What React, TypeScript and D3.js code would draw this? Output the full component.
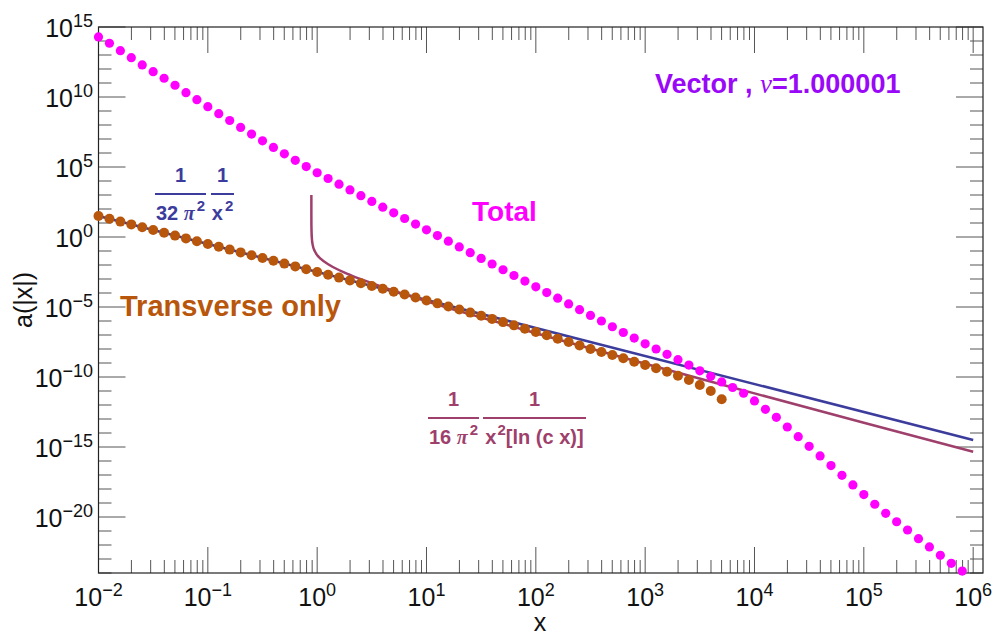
import React, { useEffect, useRef } from 'react';
import * as d3 from 'd3';

const W = 992;
const H = 635;

// dots are spaced 0.1 decade in x, starting at x = 10^-2
const dotStep = 0.1;
const dotStart = -2;

// log10 a(|x|) of the "Total" dots
const totalLogA = [
  14.29, 13.84, 13.31, 12.81, 12.29, 11.81, 11.34, 10.84, 10.31, 9.81,
  9.31, 8.81, 8.32, 7.83, 7.35, 6.87, 6.4, 5.94, 5.48, 5.03,
  4.59, 4.18, 3.77, 3.36, 2.95, 2.54, 2.13, 1.73, 1.32, 0.92,
  0.51, 0.1, -0.3, -0.71, -1.12, -1.53, -1.93, -2.34, -2.75, -3.15,
  -3.56, -3.97, -4.37, -4.78, -5.19, -5.6, -6.0, -6.41, -6.82, -7.22,
  -7.63, -8.0, -8.38, -8.76, -9.15, -9.56, -9.95, -10.35, -10.75, -11.16,
  -11.71, -12.31, -12.88, -13.57, -14.26, -14.95, -15.64, -16.33, -17.02, -17.71,
  -18.4, -19.09, -19.74, -20.34, -20.93, -21.55, -22.14, -22.74, -23.31, -23.86,
];

// log10 a(|x|) of the "Transverse only" dots
const transverseLogA = [
  1.5, 1.3, 1.1, 0.9, 0.7, 0.5, 0.3, 0.1, -0.1, -0.3,
  -0.5, -0.7, -0.9, -1.1, -1.3, -1.5, -1.7, -1.9, -2.1, -2.3,
  -2.5, -2.7, -2.9, -3.1, -3.3, -3.5, -3.7, -3.91, -4.11, -4.32,
  -4.53, -4.74, -4.96, -5.18, -5.4, -5.63, -5.85, -6.08, -6.31, -6.55,
  -6.78, -7.02, -7.26, -7.5, -7.75, -8.0, -8.22, -8.43, -8.66, -8.91,
  -9.14, -9.38, -9.62, -9.91, -10.21, -10.57, -11.0, -11.59,
];

// 1/(32 pi^2 x^2) line, end points
const asym32 = [
  { x: 1e-2, a: 31.7 },
  { x: 1e6, a: 3.17e-15 },
];

// 1/(16 pi^2 x^2 ln(cx)) curve, points read along it
const asym16x = [0.885, 0.8852, 0.886, 0.894, 0.912, 0.95, 0.978, 1.08, 1.32, 1.78, 2.4, 4, 10, 30, 100, 1000, 1e4, 1e5, 1e6];
const asym16LogA = [3.0, 1.5, 0.83, -0.09, -0.6, -1.0, -1.18, -1.57, -2.04, -2.55, -2.96, -3.58, -4.59, -5.7, -6.87, -9.05, -11.17, -13.27, -15.34];

const xMajor = [-2, -1, 0, 1, 2, 3, 4, 5, 6];
const yMajor = [15, 10, 5, 0, -5, -10, -15, -20];

const C_TOTAL = '#ff00ff';
const C_TRANS = '#b8560b';
const C_BLUE = '#3c3c9c';
const C_MAROON = '#9e3f6c';
const C_TITLE = '#9a08f8';

const SANS = '"Liberation Sans", Arial, sans-serif';
const SERIF = '"Liberation Serif", "Times New Roman", serif';

export default function App() {
  const root = useRef<SVGSVGElement>(null);

  useEffect(() => {
    const svg = d3.select(root.current);
    svg.selectAll('*').remove();

    const left = 98.5, right = 983, top = 27, bottom = 573;

    const x = d3.scaleLog().domain([1e-2, Math.pow(10, 6.09)]).range([left, right]);
    const y = d3.scaleLog().domain([1e-24, 1e15]).range([bottom, top]);

    const g = svg.append('g');

    // ticks
    const ticks = g.append('g').attr('stroke', '#555').attr('stroke-width', 1);
    for (let e = -2; e <= 6; e++) {
      for (let m = 1; m <= 9; m++) {
        const v = m * Math.pow(10, e);
        if (v > x.domain()[1]) continue;
        const px = x(v);
        const len = m === 1 ? 26 : 13;
        ticks.append('line').attr('x1', px).attr('x2', px).attr('y1', bottom).attr('y2', bottom - len);
        ticks.append('line').attr('x1', px).attr('x2', px).attr('y1', top).attr('y2', top + len);
      }
    }
    for (let e = -24; e <= 15; e++) {
      const py = y(Math.pow(10, e));
      const len = e % 5 === 0 ? 27 : 13;
      ticks.append('line').attr('x1', left).attr('x2', left + len).attr('y1', py).attr('y2', py);
      ticks.append('line').attr('x1', right).attr('x2', right - len).attr('y1', py).attr('y2', py);
    }

    // frame
    g.append('rect')
      .attr('x', left).attr('y', top)
      .attr('width', right - left).attr('height', bottom - top)
      .attr('fill', 'none').attr('stroke', '#222').attr('stroke-width', 1.2);

    const minus = (n: number) => (n < 0 ? '\u2212' + Math.abs(n) : String(n));

    // x tick labels
    xMajor.forEach((e) => {
      const t = g.append('text')
        .attr('x', x(Math.pow(10, e))).attr('y', 606)
        .attr('text-anchor', 'middle')
        .attr('font-family', SANS).attr('font-size', 25).attr('fill', '#111');
      t.append('tspan').text('10');
      t.append('tspan').attr('dy', -10).attr('font-size', 18).text(minus(e));
    });

    // y tick labels
    yMajor.forEach((e) => {
      const t = g.append('text')
        .attr('x', 93).attr('y', y(Math.pow(10, e)) + 10)
        .attr('text-anchor', 'end')
        .attr('font-family', SANS).attr('font-size', 25).attr('fill', '#111');
      t.append('tspan').text('10');
      t.append('tspan').attr('dy', -10).attr('font-size', 18).text(minus(e));
    });

    // axis titles
    g.append('text')
      .attr('x', 540).attr('y', 631)
      .attr('text-anchor', 'middle')
      .attr('font-family', SANS).attr('font-size', 25).attr('fill', '#111')
      .text('x');
    g.append('text')
      .attr('transform', `translate(32, ${(top + bottom) / 2}) rotate(-90)`)
      .attr('text-anchor', 'middle')
      .attr('font-family', SANS).attr('font-size', 25).attr('fill', '#111')
      .text('a(|x|)');

    const plot = g.append('g');

    // asymptotic lines
    const line = d3.line<{ x: number; a: number }>()
      .x((d) => x(d.x))
      .y((d) => y(d.a));

    plot.append('path')
      .attr('d', line(asym32))
      .attr('fill', 'none').attr('stroke', C_BLUE).attr('stroke-width', 2.5);

    const asym16 = asym16x.map((v, i) => ({ x: v, a: Math.pow(10, asym16LogA[i]) }));
    plot.append('path')
      .attr('d', line.curve(d3.curveMonotoneX)(asym16))
      .attr('fill', 'none').attr('stroke', C_MAROON).attr('stroke-width', 2.5);

    // dots
    const toPts = (arr: number[]) =>
      arr.map((v, i) => ({ x: Math.pow(10, dotStart + i * dotStep), a: Math.pow(10, v) }));

    plot.append('g').selectAll('circle')
      .data(toPts(transverseLogA))
      .enter().append('circle')
      .attr('cx', (d) => x(d.x)).attr('cy', (d) => y(d.a))
      .attr('r', 5).attr('fill', C_TRANS);

    plot.append('g').selectAll('circle')
      .data(toPts(totalLogA))
      .enter().append('circle')
      .attr('cx', (d) => x(d.x)).attr('cy', (d) => y(d.a))
      .attr('r', 4.6).attr('fill', C_TOTAL);

    // labels
    const label = (px: number, py: number, txt: string, color: string, size: number) =>
      g.append('text')
        .attr('x', px).attr('y', py)
        .attr('font-family', SANS).attr('font-weight', 'bold')
        .attr('font-size', size).attr('fill', color)
        .text(txt);

    label(472, 221, 'Total', C_TOTAL, 28);
    label(120, 316, 'Transverse only', C_TRANS, 29);

    const title = g.append('text')
      .attr('x', 655).attr('y', 93)
      .attr('font-family', SANS).attr('font-weight', 'bold')
      .attr('font-size', 27).attr('fill', C_TITLE);
    title.append('tspan').text('Vector , ');
    title.append('tspan').attr('font-family', SERIF).attr('font-style', 'italic').attr('font-weight', 'normal').text('\u03bd');
    title.append('tspan').text('=1.000001');

    // fraction labels
    const frac = (cx: number, barY: number, w: number, color: string, build: (t: any) => void) => {
      g.append('line')
        .attr('x1', cx - w / 2).attr('x2', cx + w / 2)
        .attr('y1', barY).attr('y2', barY)
        .attr('stroke', color).attr('stroke-width', 2);
      g.append('text')
        .attr('x', cx).attr('y', barY - 12)
        .attr('text-anchor', 'middle')
        .attr('font-family', SANS).attr('font-weight', 'bold').attr('font-size', 20)
        .attr('fill', color).text('1');
      const d = g.append('text')
        .attr('x', cx).attr('y', barY + 26)
        .attr('text-anchor', 'middle')
        .attr('font-family', SANS).attr('font-weight', 'bold').attr('font-size', 20)
        .attr('fill', color);
      build(d);
    };

    const piSq = (t: any, num: string) => {
      t.append('tspan').text(num + ' ');
      t.append('tspan').attr('font-family', SERIF).attr('font-style', 'italic').text('\u03c0');
      t.append('tspan').attr('dx', 2).attr('dy', -9).attr('font-size', 15).text('2');
    };

    frac(180.5, 194, 51, C_BLUE, (t) => piSq(t, '32'));
    frac(222.5, 194, 23, C_BLUE, (t) => {
      t.append('tspan').text('x');
      t.append('tspan').attr('dx', 2).attr('dy', -9).attr('font-size', 15).text('2');
    });

    frac(453.5, 418, 51, C_MAROON, (t) => piSq(t, '16'));
    frac(534.5, 418, 103, C_MAROON, (t) => {
      t.append('tspan').text('x');
      t.append('tspan').attr('dx', 1).attr('dy', -9).attr('font-size', 15).text('2');
      t.append('tspan').attr('dy', 9).text('[');
      t.append('tspan').text('ln (c x)');
      t.append('tspan').text(']');
    });
  }, []);

  return (
    <svg
      ref={root}
      width={W}
      height={H}
      style={{ position: 'absolute', left: 0, top: 0, background: '#fff' }}
    />
  );
}
